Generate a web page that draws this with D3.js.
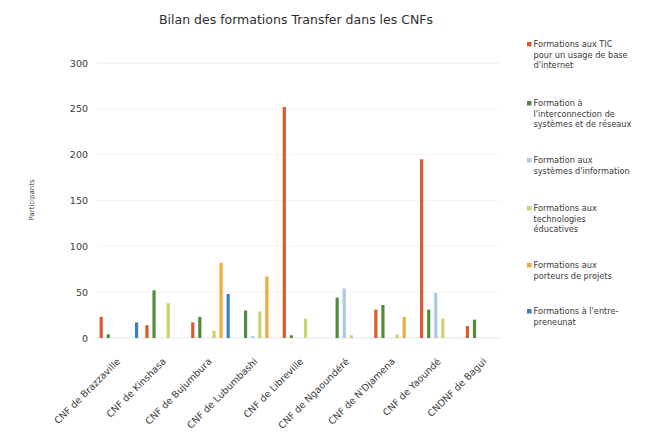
<!DOCTYPE html>
<html>
<head>
<meta charset="utf-8">
<script src="https://cdn.jsdelivr.net/npm/d3@7"></script>
<style>
  html, body { margin: 0; padding: 0; background: #fff; }
  svg { display: block; font-family: 'DejaVu Sans', Verdana, sans-serif; }
</style>
</head>
<body>
<svg width="664" height="432"></svg>
<script>
const WIDTH = 664;
const HEIGHT = 432;

const TITLE = 'Bilan des formations Transfer dans les CNFs';
const Y_TITLE = 'Participants';

const categories = [
  'CNF de Brazzaville',
  'CNF de Kinshasa',
  'CNF de Bujumbura',
  'CNF de Lubumbashi',
  'CNF de Libreville',
  'CNF de Ngaoundéré',
  "CNF de N'Djamena",
  'CNF de Yaoundé',
  'CNDNF de Bagui',
];

const seriesNames = [
  ['Formations aux TIC', 'pour un usage de base', "d'internet"],
  ['Formation à', "l'interconnection de", 'systèmes et de réseaux'],
  ['Formation aux', "systèmes d'information"],
  ['Formations aux', 'technologies', 'éducatives'],
  ['Formations aux', 'porteurs de projets'],
  ["Formations à l'entre-", 'preneunat'],
];

// one array per series, in category order
const ticValues = [23, 14, 17, 0, 252, 0, 31, 195, 13];
const interconnectionValues = [4, 52, 23, 30, 3, 44, 36, 31, 20];
const infoSystemsValues = [0, 0, 0, 2, 0, 54, 0, 49, 0];
const eduTechValues = [0, 38, 8, 29, 21, 3, 4, 21, 0];
const projectValues = [0, 0, 82, 67, 0, 0, 23, 0, 0];
const entrepreneurValues = [17, 0, 48, 0, 0, 0, 0, 0, 0];

const seriesValues = [
  ticValues,
  interconnectionValues,
  infoSystemsValues,
  eduTechValues,
  projectValues,
  entrepreneurValues,
];

const yTicks = [0, 50, 100, 150, 200, 250, 300];

const COLORS = ['#dc5a2e', '#4f8d3b', '#a8c9ea', '#c9d36c', '#eeab3c', '#3b7fc3'];
const TEXT_COLOR = '#3a3a3a';

const program = () => {
  const svg = d3.select('svg').attr('viewBox', [0, 0, WIDTH, HEIGHT]);

  // ---------- scales ----------

  const x = d3.scaleBand().domain(categories).range([96, 508]);

  const xs = d3
    .scaleBand()
    .domain(d3.range(seriesValues.length))
    .range([2, x.bandwidth() - 2])
    .paddingInner(0.55)
    .paddingOuter(0.225);

  const y = d3.scaleLinear().domain([0, 300]).range([338, 63]);

  // ---------- grid + y axis ----------

  svg
    .append('g')
    .selectAll('line')
    .data(yTicks)
    .join('line')
    .attr('x1', 97)
    .attr('x2', 500)
    .attr('y1', (d) => y(d))
    .attr('y2', (d) => y(d))
    .attr('stroke', (d) => (d === 0 || d === 300 ? '#e8e8e8' : '#f4f4f4'))
    .attr('stroke-width', 1);

  const yAxis = svg
    .append('g')
    .attr('transform', 'translate(88,0)')
    .call(d3.axisLeft(y).tickValues(yTicks).tickSize(0).tickPadding(0));

  yAxis.select('.domain').remove();
  yAxis
    .selectAll('text')
    .attr('font-size', 9.5)
    .attr('fill', TEXT_COLOR)
    .attr('font-family', "'DejaVu Sans', Verdana, sans-serif");

  svg
    .append('text')
    .attr('transform', 'translate(34,200) rotate(-90)')
    .attr('text-anchor', 'middle')
    .attr('font-size', 7)
    .attr('fill', TEXT_COLOR)
    .text(Y_TITLE);

  // ---------- bars ----------

  const rows = categories.flatMap((cat, ci) =>
    seriesValues.map((vals, si) => ({ cat, si, value: vals[ci] }))
  );

  svg
    .append('g')
    .selectAll('rect')
    .data(rows.filter((d) => d.value > 0))
    .join('rect')
    .attr('x', (d) => x(d.cat) + xs(d.si))
    .attr('width', xs.bandwidth())
    .attr('y', (d) => y(d.value))
    .attr('height', (d) => y(0) - y(d.value))
    .attr('fill', (d) => COLORS[d.si]);

  // ---------- x labels ----------

  svg
    .append('g')
    .selectAll('text')
    .data(categories)
    .join('text')
    .attr(
      'transform',
      (d) => `translate(${x(d) + x.bandwidth() / 2 + 2},${y(0) + 24}) rotate(-45)`
    )
    .attr('text-anchor', 'end')
    .attr('font-size', 9.5)
    .attr('fill', TEXT_COLOR)
    .text((d) => d);

  // ---------- title ----------

  svg
    .append('text')
    .attr('x', 296)
    .attr('y', 24)
    .attr('text-anchor', 'middle')
    .attr('font-size', 12.5)
    .attr('fill', '#2e2e2e')
    .text(TITLE);

  // ---------- legend ----------

  const legendTops = [47, 106, 163, 211, 268, 314];

  const legend = svg
    .append('g')
    .selectAll('g')
    .data(seriesNames)
    .join('g')
    .attr('transform', (_, i) => `translate(527,${legendTops[i]})`);

  legend
    .append('rect')
    .attr('x', 0)
    .attr('y', -5)
    .attr('width', 4.5)
    .attr('height', 4.5)
    .attr('fill', (_, i) => COLORS[i]);

  legend
    .append('text')
    .attr('font-size', 8.2)
    .attr('fill', TEXT_COLOR)
    .selectAll('tspan')
    .data((d) => d)
    .join('tspan')
    .attr('x', 6.5)
    .attr('dy', (_, j) => (j === 0 ? 0 : 10.5))
    .text((d) => d);
};

program();
</script>
</body>
</html>
